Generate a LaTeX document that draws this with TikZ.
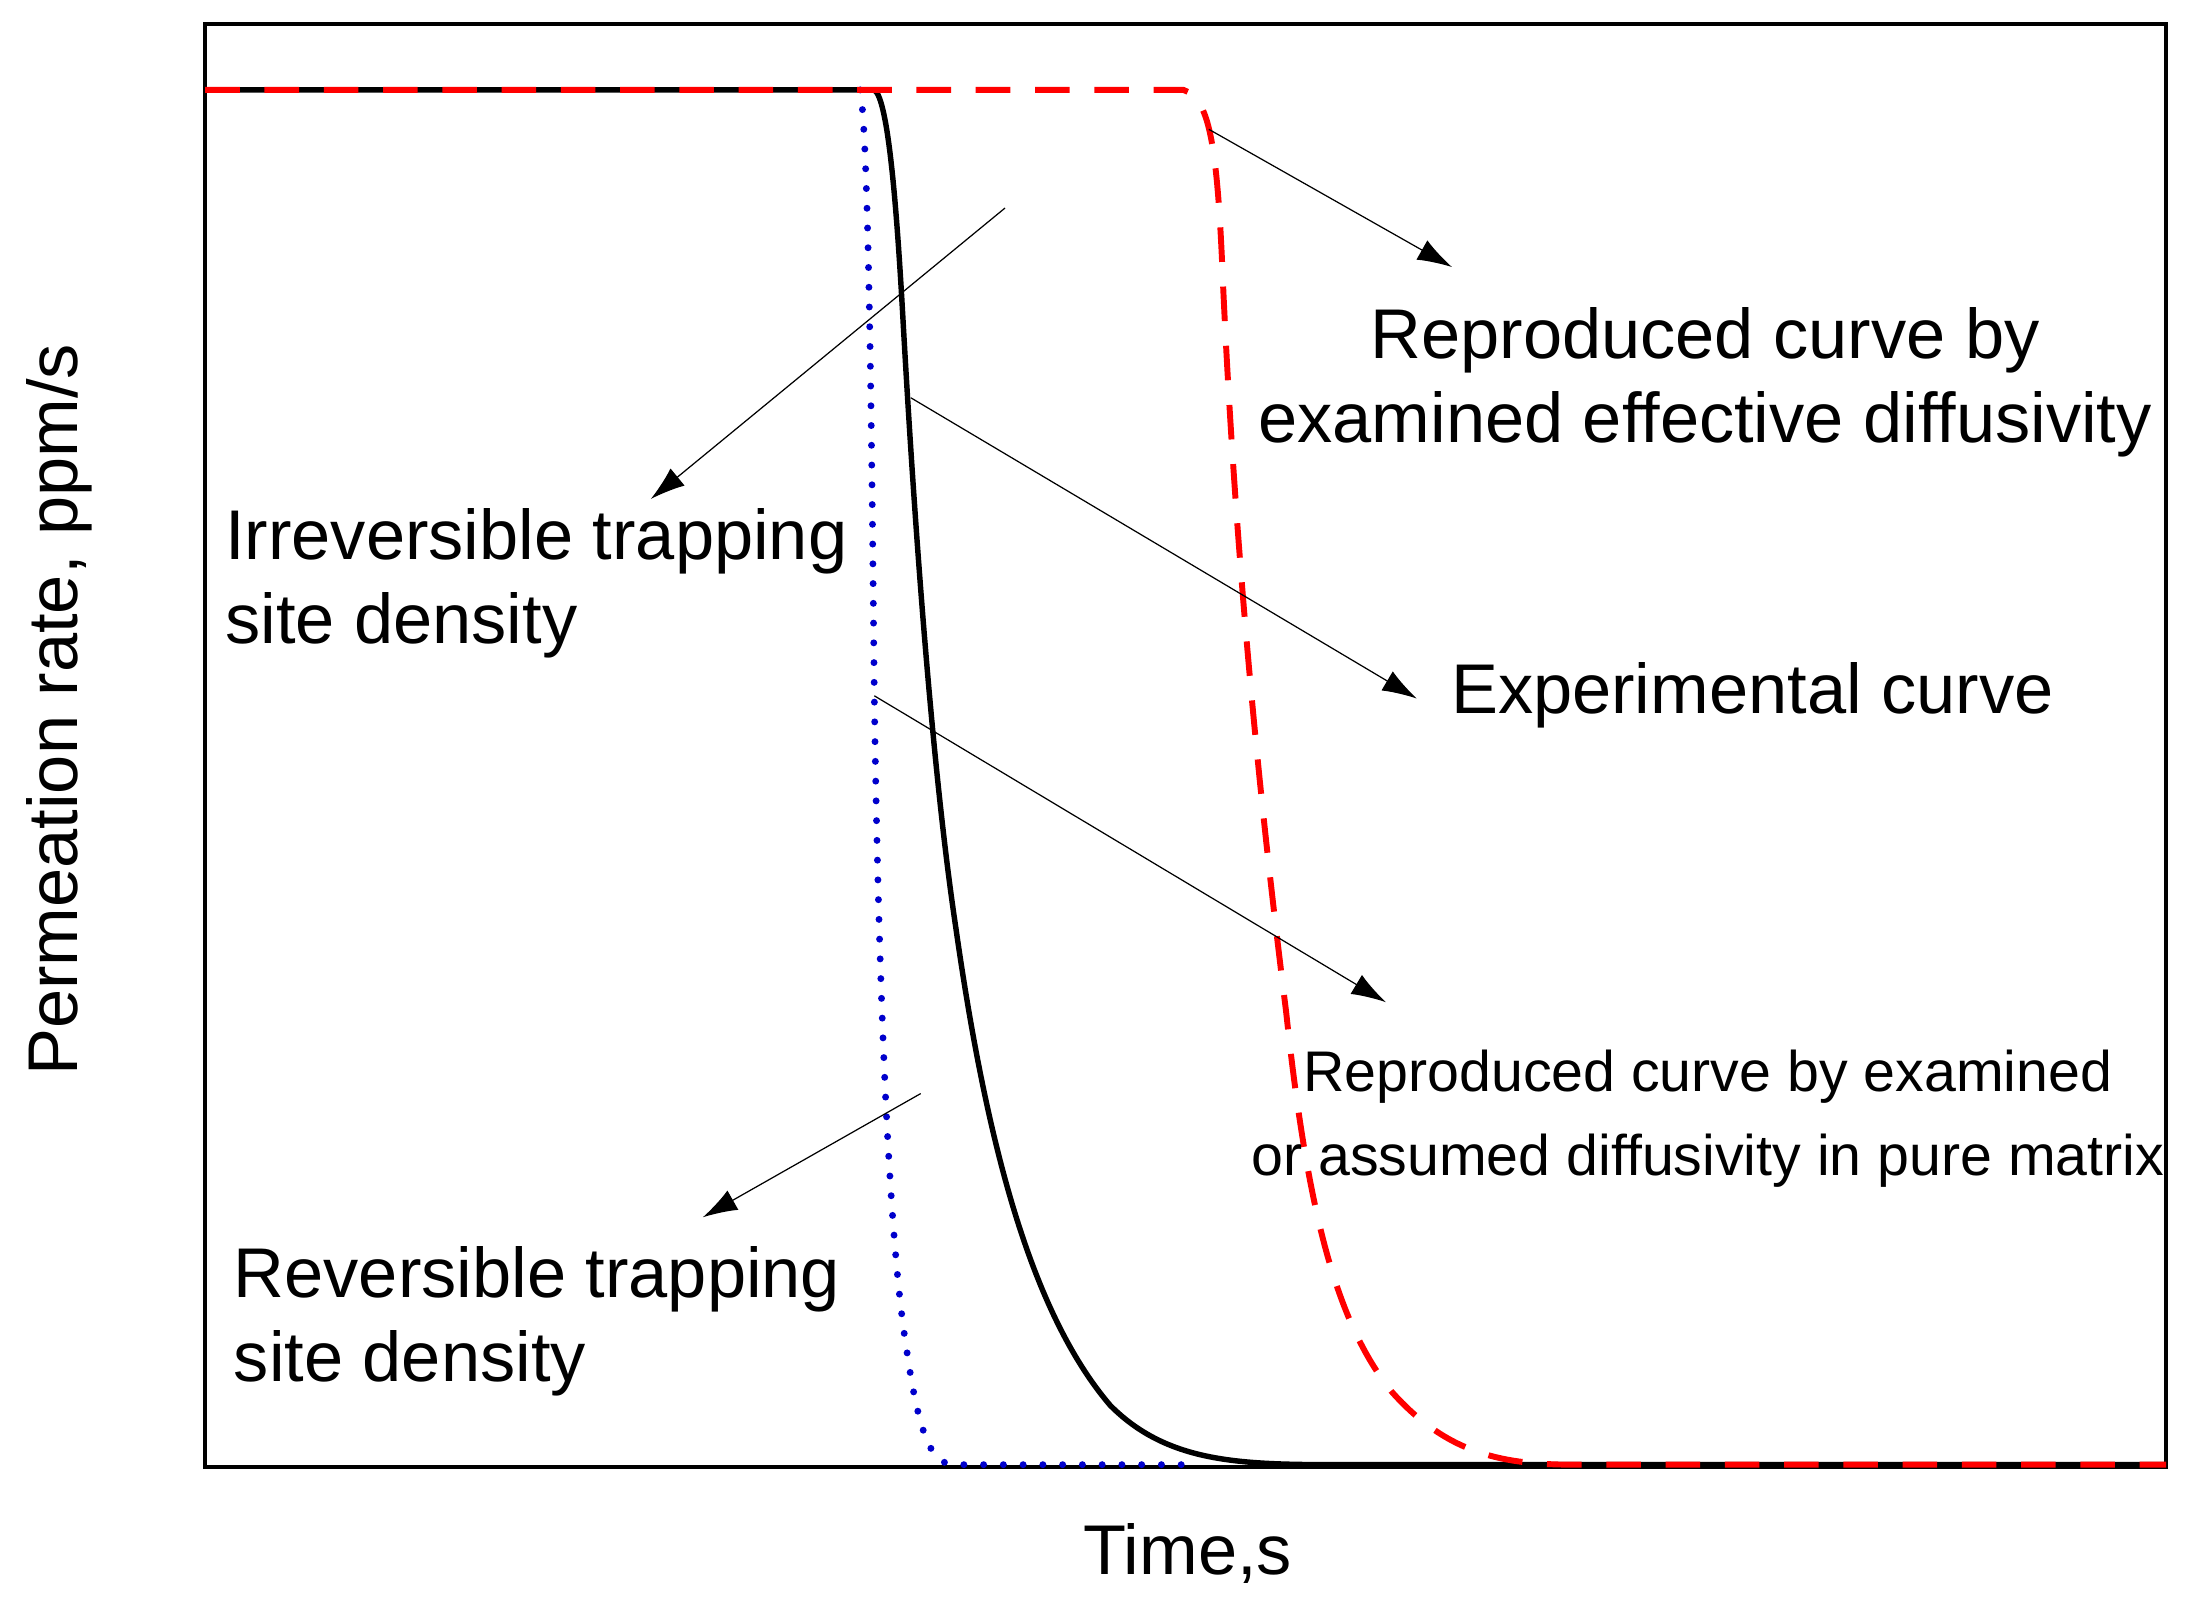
\documentclass[tikz,border=0pt]{standalone}
\usepackage{fontspec}
\setmainfont{Liberation Sans}
\usetikzlibrary{arrows.meta}
\begin{document}
\begin{tikzpicture}[x=0.02cm,y=-0.02cm,
  lab/.style={font=\fontsize{28.5}{34}\selectfont,inner sep=0pt},
  slab/.style={font=\fontsize{23.2}{34}\selectfont,inner sep=0pt,align=center},
  arr/.style={-{Latex[length=14pt,width=9pt]},line width=0.5pt}]
\useasboundingbox (0,0) rectangle (1568,1142);
\draw[line width=1.6pt] (146,17) rectangle (1541,1044);
% curves
\draw[line width=2.2pt] (146,64) -- (622,64) .. controls (632,70) and (638,150) .. (642,220)
  .. controls (652,400) and (665,560) .. (680,660)
  .. controls (700,800) and (730,930) .. (790,1000)
  .. controls (830,1040) and (880,1042) .. (950,1042) -- (1541,1042);
\draw[blue!80!black,line width=2.8pt,line cap=round,dash pattern=on 0pt off 8pt] (612,64) .. controls (618,100) and (620,300) .. (622,495)
  .. controls (625,700) and (632,880) .. (645,960)
  .. controls (655,1030) and (665,1042) .. (680,1042) -- (850,1042);
\draw[red,line width=2.4pt,dash pattern=on 14pt off 10pt] (146,64) -- (842,64) .. controls (860,70) and (866,100) .. (870,200)
  .. controls (880,420) and (900,600) .. (915,720)
  .. controls (930,860) and (950,940) .. (990,990)
  .. controls (1030,1035) and (1070,1042) .. (1120,1042) -- (1541,1042);
% arrows
\coordinate (a1) at (860,92); \coordinate (b1) at (1033,190);
\coordinate (a2) at (715,148); \coordinate (b2) at (463,355);
\coordinate (a3) at (648,283); \coordinate (b3) at (1008,497);
\coordinate (a4) at (622,495); \coordinate (b4) at (986,713);
\coordinate (a5) at (655,778); \coordinate (b5) at (500,866);
\foreach \i in {1,...,5} \draw[arr] (a\i) -- (b\i);
% texts
\node[lab,align=center] (t1) at (1213,272) {Reproduced curve by\\examined effective diffusivity};
\node[lab,anchor=west,align=left] (t2) at (160,415) {Irreversible trapping\\site density};
\node[lab,anchor=west] (t3) at (1032,495) {Experimental curve};
\node[slab] (t4) at (1215,796) {Reproduced curve by examined\\or assumed diffusivity in pure matrix};
\node[lab,anchor=west,align=left] (t5) at (166,940) {Reversible trapping\\site density};
\node[lab] (xl) at (845,1105) {Time,s};
\node[lab,rotate=90] (yl) at (42,505) {Permeation rate, ppm/s};
\end{tikzpicture}
\end{document}
